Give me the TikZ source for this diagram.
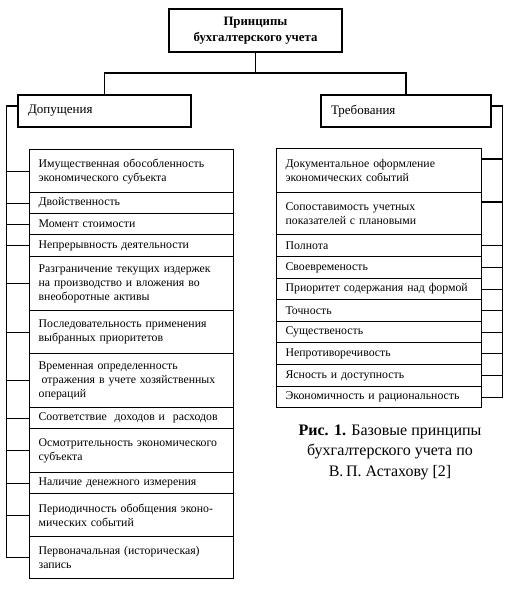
\documentclass[tikz,border=0pt]{standalone}
\usepackage{fontspec}
\setmainfont{Liberation Serif}
\begin{document}
\begin{tikzpicture}[x=1pt,y=1pt,
  every path/.style={line width=1.25pt},
  txt/.style={font=\fontsize{11.8}{14}\selectfont},
  litem/.style={draw, line width=1.25pt, anchor=north west, inner xsep=9pt, inner ysep=2pt,
     text width=186pt, align=left, txt},
  ritem/.style={litem, text width=187pt},
  head/.style={draw, line width=1.25pt, inner xsep=10pt, align=left, minimum height=32pt,
     font=\fontsize{13}{15}\selectfont},
  conn/.style={line width=1.25pt}
]
\useasboundingbox (0,0) rectangle (511,-589);
% title
\node[draw, line width=1.25pt, minimum width=173pt, minimum height=43pt, align=center,
  font=\bfseries\fontsize{12.8}{16}\selectfont] (title) at (255.5,-30.5)
  {Принципы\\бухгалтерского учета};
% headers
\node[head, text width=153pt] (dop) at (104.5,-111) {Допущения};
\node[head, text width=150pt] (treb) at (406,-111) {Требования};
\coordinate (j) at (255,-73);
\draw[conn] (title.south) -- (title.south |- j);
\draw[conn] (dop.north) |- (j) -| (treb.north);

% left items
\node[litem, minimum height=43pt] (L1) at (29,-149) {Имущественная обособленность\\экономического субъекта};
\node[litem, minimum height=21pt] (L2) at (29,-192) {Двойственность};
\node[litem, minimum height=21pt] (L3) at (29,-213) {Момент стоимости};
\node[litem, minimum height=22pt] (L4) at (29,-234) {Непрерывность деятельности};
\node[litem, minimum height=54pt] (L5) at (29,-256) {Разграничение текущих издержек\\на производство и вложения во\\внеоборотные активы};
\node[litem, minimum height=43pt] (L6) at (29,-310) {Последовательность применения\\выбранных приоритетов};
\node[litem, minimum height=54pt] (L7) at (29,-353) {Временная определенность\\\hspace*{3pt}отражения в учете хозяйственных\\операций};
\node[litem, minimum height=21pt] (L8) at (29,-407) {Соответствие\ \ доходов и\ \ расходов};
\node[litem, minimum height=44pt] (L9) at (29,-428) {Осмотрительность экономического\\субъекта};
\node[litem, minimum height=21pt] (L10) at (29,-472) {Наличие денежного измерения};
\node[litem, minimum height=43pt] (L11) at (29,-493) {Периодичность обобщения эконо-\\мических событий};
\node[litem, minimum height=42pt] (L12) at (29,-536) {Первоначальная (историческая)\\запись};

% right items
\node[ritem, minimum height=44pt] (R1) at (276,-148) {Документальное оформление\\экономических событий};
\node[ritem, minimum height=42pt] (R2) at (276,-192) {Сопоставимость учетных\\показателей с плановыми};
\node[ritem, minimum height=22pt] (R3) at (276,-234) {Полнота};
\node[ritem, minimum height=22pt] (R4) at (276,-256) {Своевременость};
\node[ritem, minimum height=21pt] (R5) at (276,-278) {Приоритет содержания над формой};
\node[ritem, minimum height=22pt] (R6) at (276,-299) {Точность};
\node[ritem, minimum height=21pt] (R7) at (276,-321) {Существеность};
\node[ritem, minimum height=22pt] (R8) at (276,-342) {Непротиворечивость};
\node[ritem, minimum height=22pt] (R9) at (276,-364) {Ясность и доступность};
\node[ritem, minimum height=21pt] (R10) at (276,-386) {Экономичность и рациональность};

% left bracket
\draw[conn] ([yshift=5pt]dop.west) -- ++(-11,0) coordinate (lt) -- (lt |- L12.west) -- (L12.west);
\foreach \n in {L1,L2,L3,L4,L5,L6,L7,L8,L9,L10,L11}
  \draw[conn] (\n.west) -- (\n.west -| lt);

% right bracket
\draw[conn] ([yshift=5pt]treb.east) -- ++(11,0) coordinate (rt) -- (rt |- R10.east) -- (R10.east);
\draw[conn] ([yshift=-11pt]R1.north east) -- ([yshift=-11pt]R1.north east -| rt);
\draw[conn] ([yshift=-10pt]R2.north east) -- ([yshift=-10pt]R2.north east -| rt);
\foreach \n in {R3,R4,R5,R6,R7,R8,R9}
  \draw[conn] (\n.east) -- (\n.east -| rt);

% caption
\node[align=center, font=\fontsize{16}{20.5}\selectfont] (cap) at (390,-452)
  {\textbf{Рис. 1.} Базовые принципы\\бухгалтерского учета по\\В.\,П. Астахову [2]};
\end{tikzpicture}
\end{document}
